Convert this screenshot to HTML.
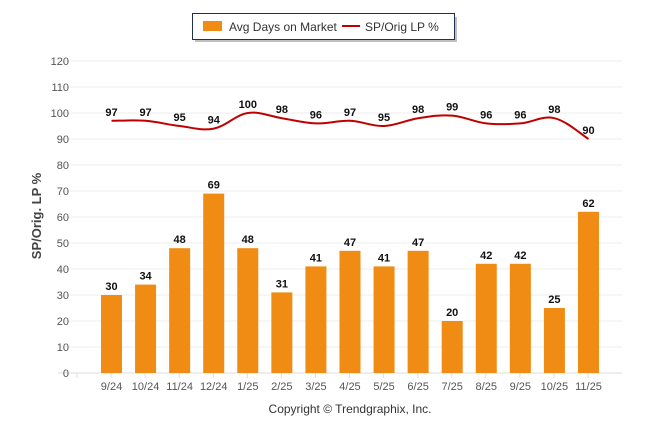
<!DOCTYPE html>
<html><head><meta charset="utf-8"><style>
body{margin:0;background:#fff;width:646px;height:434px;overflow:hidden;font-family:"Liberation Sans",sans-serif}
</style></head><body>
<svg id="chart" width="646" height="434" xmlns="http://www.w3.org/2000/svg" font-family="Liberation Sans, sans-serif">
<g>
<rect x="193" y="15" width="262" height="25" fill="#000" opacity="0.25" transform="translate(2,2)"/>
<rect x="192.5" y="13.5" width="262" height="26" fill="#fff" stroke="#1f3050"/>
<rect x="203" y="21" width="19" height="10" fill="#f08c13"/>
<text x="229" y="31" font-size="12" fill="#333">Avg Days on Market</text>
<line x1="342" y1="26" x2="360" y2="26" stroke="#c00000" stroke-width="2"/>
<text x="365" y="31" font-size="12" fill="#333">SP/Orig LP %</text>
</g>
<text transform="translate(41,216) rotate(-90)" text-anchor="middle" font-size="13" font-weight="bold" fill="#444">SP/Orig. LP %</text>
<g id="grid"></g><g id="bars"></g><g id="line"></g><g id="labels"></g>
<text x="350" y="413" text-anchor="middle" font-size="12" fill="#333">Copyright © Trendgraphix, Inc.</text>
</svg>
<script>
const categories=["9/24","10/24","11/24","12/24","1/25","2/25","3/25","4/25","5/25","6/25","7/25","8/25","9/25","10/25","11/25"];
const daysOnMarket=[30,34,48,69,48,31,41,47,41,47,20,42,42,25,62];
const spOrigLp=[97,97,95,94,100,98,96,97,95,98,99,96,96,98,90];
const yTicks=[0,10,20,30,40,50,60,70,80,90,100,110,120];
const NS="http://www.w3.org/2000/svg";
const y0=373,yScale=2.6;
const yPos=v=>y0-v*yScale;
const xPos=i=>111.5+i*34.07;
function mk(t,a,p){const e=document.createElementNS(NS,t);for(const k in a)e.setAttribute(k,a[k]);p.appendChild(e);return e;}
const grid=document.getElementById('grid');
yTicks.forEach(t=>{
 const l=mk('line',{x1:58,x2:622,y1:yPos(t),y2:yPos(t),stroke:t===0?'#ddd':'#ececec','stroke-width':1},grid);
 
 
 const tx=mk('text',{x:69,y:yPos(t)+4,'text-anchor':'end','font-size':11,fill:'#555'},grid);
 tx.textContent=t;
 
 
});
for(let i=0;i<=categories.length;i++){mk('line',{x1:xPos(i)-34.5,x2:xPos(i)-34.5,y1:373,y2:378,stroke:'#ddd'},grid);}
const bars=document.getElementById('bars'),labels=document.getElementById('labels');
categories.forEach((c,i)=>{
 const v=daysOnMarket[i];
 const r=mk('rect',{x:xPos(i)-10.5,y:yPos(v),width:21,height:v*yScale,fill:'#f08c13'},bars);
 
 
 const t=mk('text',{x:xPos(i),y:yPos(v)-5,'text-anchor':'middle','font-size':11,'font-weight':'bold',fill:'#111'},labels);
 t.textContent=v;
 
 
 const xl=mk('text',{x:xPos(i),y:390,'text-anchor':'middle','font-size':11,fill:'#555'},labels);
 xl.textContent=c;
 
 
 const lt=mk('text',{x:xPos(i),y:yPos(spOrigLp[i])-5,'text-anchor':'middle','font-size':11,'font-weight':'bold',fill:'#111'},labels);
 lt.textContent=spOrigLp[i];
 
 
});
const pts=spOrigLp.map((v,i)=>[xPos(i),yPos(v)]);
let d='M'+pts[0][0]+','+pts[0][1];
for(let i=0;i<pts.length-1;i++){
 const p0=pts[Math.max(0,i-1)],p1=pts[i],p2=pts[i+1],p3=pts[Math.min(pts.length-1,i+2)];
 const k=0.18;
 const c1=[p1[0]+(p2[0]-p0[0])*k,p1[1]+(p2[1]-p0[1])*k];
 const c2=[p2[0]-(p3[0]-p1[0])*k,p2[1]-(p3[1]-p1[1])*k];
 d+=' C'+c1+' '+c2+' '+p2;
}
const path=mk('path',{d:d,fill:'none',stroke:'#c00000','stroke-width':2},document.getElementById('line'));


</script>
</body></html>
